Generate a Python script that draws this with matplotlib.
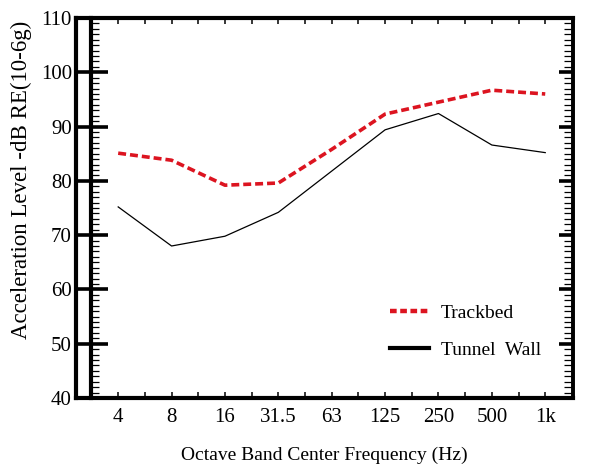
import matplotlib
matplotlib.use("Agg")
import matplotlib.pyplot as plt
from matplotlib.lines import Line2D
from matplotlib.ticker import MultipleLocator, FixedLocator

# octave band data
bands = ["4", "8", "16", "31.5", "63", "125", "250", "500", "1k"]
trackbed = [85.1, 83.8, 79.2, 79.6, 85.8, 92.3, 94.5, 96.7, 96.0]
tunnel_wall = [75.2, 68.0, 69.8, 74.2, 81.8, 89.4, 92.4, 86.6, 85.2]

plt.rcParams["font.family"] = ["Liberation Serif", "DejaVu Serif"]

fig = plt.figure(figsize=(5.92, 4.71), dpi=100)
ax = fig.add_axes([0.1284, 0.155, 0.8395, 0.8068])

x = list(range(len(bands)))
red = "#dc1420"
ax.plot(x, trackbed, color=red, lw=2.6, dashes=(2.2, 1.1), solid_capstyle="butt")
ax.plot(x, tunnel_wall, color="black", lw=0.9)

ax.set_xlim(-0.79, 8.52)
ax.set_ylim(40, 110)

# spines
for s in ax.spines.values():
    s.set_linewidth(3)
ax.spines["right"].set_linewidth(2.6)

# x ticks: categories + midpoints, inward on top and bottom
ax.set_xticks(x)
ax.set_xticklabels(bands)
ax.xaxis.set_minor_locator(FixedLocator([i + 0.5 for i in x[:-1]]))
ax.tick_params(axis="x", which="both", direction="in", top=True, bottom=True,
               length=4, width=1.1, labelsize=15, pad=7)

# y ticks: long major ticks on outer left spine
ax.yaxis.set_major_locator(MultipleLocator(10))
ax.tick_params(axis="y", which="major", direction="in", left=True, right=False,
               length=23, width=2.6, labelsize=15, pad=3)
ax.tick_params(axis="y", which="minor", left=False, right=False)

# inner left bar carrying the minor ticks
inner = ax.secondary_yaxis(0.030)
inner.spines["left"].set_linewidth(3)
inner.yaxis.set_major_locator(MultipleLocator(10))
inner.yaxis.set_minor_locator(MultipleLocator(1))
inner.tick_params(which="major", length=0, labelleft=False, labelright=False)
inner.tick_params(which="minor", direction="in", length=6, width=0.9)

# right side ticks
rax = ax.secondary_yaxis("right")
rax.spines["right"].set_linewidth(2.6)
rax.yaxis.set_major_locator(MultipleLocator(10))
rax.yaxis.set_minor_locator(MultipleLocator(1))
rax.tick_params(which="major", direction="in", length=10, width=2.6,
                labelleft=False, labelright=False)
rax.tick_params(which="minor", direction="in", length=6.5, width=0.9)

ax.set_xlabel("Octave Band Center Frequency (Hz)", fontsize=14, va="center")
ax.set_ylabel("Acceleration Level -dB RE(10-6g)", fontsize=16.5, va="center")
ax.xaxis.set_label_coords(0.5, -0.15)
ax.yaxis.set_label_coords(-0.109, 0.574)

handles = [Line2D([], [], color=red, lw=3.2, dashes=(1.5, 0.8)),
           Line2D([], [], color="black", lw=3)]
ax.legend(handles, ["Trackbed", "Tunnel  Wall"], loc="center left",
          bbox_to_anchor=(0.632, 0.174), frameon=False, fontsize=14,
          borderpad=0, borderaxespad=0, handlelength=2.0, handletextpad=0.6,
          labelspacing=1.0)

fig.savefig("out.png", dpi=100)
plt.close(fig)
